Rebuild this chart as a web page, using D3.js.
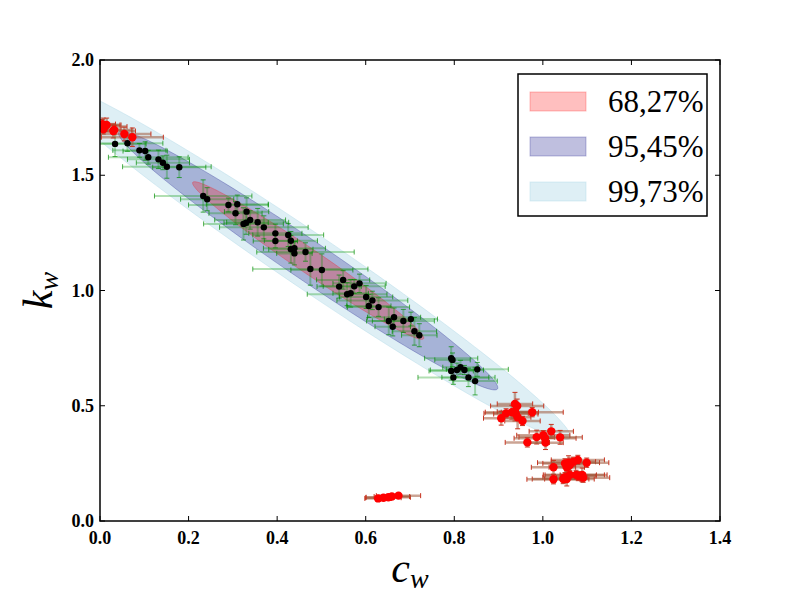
<!DOCTYPE html>
<html>
<head>
<meta charset="utf-8">
<script src="https://cdn.jsdelivr.net/npm/d3@7"></script>
<style>
    html, body { margin: 0; padding: 0; background: #fff; overflow: hidden; }
    svg { display: block; }
    .tick-label { font-family: "Liberation Serif", serif; font-weight: bold; font-size: 18px; }
    .axis-label { font-family: "Liberation Serif", serif; font-style: italic; }
</style>
<script>
// inliers (black points, green error bars)
const inC = [0.034, 0.062, 0.089, 0.102, 0.109, 0.132, 0.142, 0.151, 0.179, 0.233, 0.242, 0.290, 0.310, 0.306, 0.331, 0.339, 0.324, 0.330, 0.356, 0.370, 0.396, 0.396, 0.425, 0.431, 0.431, 0.439, 0.439, 0.464, 0.475, 0.501, 0.549, 0.540, 0.574, 0.586, 0.558, 0.566, 0.601, 0.615, 0.607, 0.629, 0.652, 0.664, 0.685, 0.702, 0.661, 0.710, 0.721, 0.793, 0.796, 0.793, 0.806, 0.814, 0.823, 0.852, 0.798, 0.832, 0.847];
const inK = [1.636, 1.639, 1.608, 1.605, 1.578, 1.569, 1.554, 1.537, 1.535, 1.410, 1.396, 1.371, 1.374, 1.335, 1.342, 1.306, 1.289, 1.294, 1.296, 1.274, 1.248, 1.215, 1.241, 1.216, 1.179, 1.183, 1.161, 1.167, 1.093, 1.089, 1.046, 1.017, 1.018, 1.031, 0.984, 0.988, 0.972, 0.957, 0.933, 0.928, 0.868, 0.884, 0.868, 0.876, 0.843, 0.823, 0.806, 0.706, 0.699, 0.651, 0.655, 0.667, 0.655, 0.658, 0.623, 0.623, 0.607];
const inCErr = [0.07, 0.08, 0.06, 0.05, 0.09, 0.07, 0.06, 0.10, 0.06, 0.11, 0.06, 0.09, 0.07, 0.06, 0.05, 0.08, 0.09, 0.05, 0.07, 0.10, 0.06, 0.05, 0.08, 0.06, 0.05, 0.07, 0.04, 0.11, 0.13, 0.07, 0.06, 0.05, 0.07, 0.06, 0.09, 0.04, 0.06, 0.08, 0.05, 0.07, 0.05, 0.06, 0.07, 0.06, 0.04, 0.05, 0.04, 0.06, 0.04, 0.05, 0.06, 0.04, 0.03, 0.07, 0.08, 0.06, 0.05];
const inKErr = [0.055, 0.035, 0.03, 0.04, 0.03, 0.04, 0.03, 0.05, 0.045, 0.07, 0.05, 0.03, 0.04, 0.05, 0.06, 0.04, 0.07, 0.05, 0.06, 0.05, 0.04, 0.03, 0.05, 0.04, 0.06, 0.03, 0.05, 0.04, 0.07, 0.07, 0.04, 0.05, 0.03, 0.04, 0.05, 0.06, 0.05, 0.04, 0.05, 0.04, 0.06, 0.04, 0.05, 0.03, 0.04, 0.06, 0.05, 0.05, 0.03, 0.04, 0.03, 0.03, 0.02, 0.03, 0.03, 0.04, 0.06];

// outliers (red points, brown error bars)
const outC = [0.005, 0.0075, 0.011, 0.015, 0.0075, 0.030, 0.032, 0.055, 0.073, 0.937, 0.942, 0.976, 0.917, 0.930, 0.937, 0.939, 0.943, 0.906, 0.954, 1.019, 1.001, 0.986, 1.005, 1.039, 0.965, 1.006, 1.079, 1.069, 1.058, 1.050, 1.061, 1.099, 1.054, 1.024, 1.061, 1.075, 1.089, 1.091, 1.050, 1.046, 1.054, 1.024, 1.080, 0.628, 0.640, 0.651, 0.659, 0.674];
const outK = [1.722, 1.718, 1.711, 1.718, 1.699, 1.692, 1.696, 1.679, 1.665, 0.508, 0.499, 0.472, 0.467, 0.472, 0.474, 0.464, 0.450, 0.446, 0.434, 0.389, 0.372, 0.364, 0.359, 0.363, 0.341, 0.340, 0.265, 0.257, 0.253, 0.250, 0.243, 0.253, 0.233, 0.233, 0.200, 0.200, 0.200, 0.188, 0.190, 0.182, 0.182, 0.181, 0.195, 0.098, 0.101, 0.103, 0.106, 0.110];
const outCErr = [0.03, 0.04, 0.05, 0.03, 0.04, 0.05, 0.04, 0.06, 0.07, 0.04, 0.06, 0.07, 0.05, 0.06, 0.04, 0.05, 0.03, 0.04, 0.04, 0.05, 0.06, 0.04, 0.07, 0.05, 0.05, 0.04, 0.06, 0.05, 0.07, 0.05, 0.04, 0.05, 0.04, 0.05, 0.06, 0.07, 0.05, 0.06, 0.05, 0.07, 0.05, 0.06, 0.04, 0.03, 0.04, 0.05, 0.04, 0.05];
const outKErr = [0.02, 0.03, 0.02, 0.03, 0.02, 0.03, 0.02, 0.03, 0.04, 0.05, 0.03, 0.02, 0.02, 0.03, 0.04, 0.02, 0.05, 0.03, 0.02, 0.03, 0.02, 0.03, 0.02, 0.03, 0.02, 0.03, 0.02, 0.02, 0.03, 0.02, 0.03, 0.02, 0.02, 0.03, 0.02, 0.02, 0.03, 0.02, 0.02, 0.02, 0.03, 0.02, 0.02, 0.01, 0.01, 0.01, 0.01, 0.01];

// confidence ellipses: centre, conjugate semi-axes (1 sigma, data units), chi2 radii
const ellCenter = [0.47, 1.13];
const ellAxisU = [0.172, -0.224];
const ellAxisV = [-0.0100, -0.0285];
const ellLabels = ["68,27%", "95,45%", "99,73%"];
const ellRadius = [1.515, 2.486, 3.439];
const ellColors = ["rgba(255,0,0,0.25)", "rgba(0,0,128,0.25)", "rgba(173,216,230,0.4)"];

const xTicks = [0.0, 0.2, 0.4, 0.6, 0.8, 1.0, 1.2, 1.4];
const yTicks = [0.0, 0.5, 1.0, 1.5, 2.0];

const drawChart = () => {
    const width = 800, height = 600;
    const margin = { top: 60, right: 80, bottom: 79, left: 100 };
    const innerWidth = width - margin.left - margin.right;
    const innerHeight = height - margin.top - margin.bottom;

    const svg = d3.select("#chart")
        .append("svg")
        .attr("width", width)
        .attr("height", height);

    const innerChart = svg.append("g")
        .attr("transform", `translate(${margin.left},${margin.top})`);

    const xScale = d3.scaleLinear().domain([0, 1.4]).range([0, innerWidth]);
    const yScale = d3.scaleLinear().domain([0, 2.0]).range([innerHeight, 0]);

    svg.append("defs").append("clipPath").attr("id", "clip")
        .append("rect").attr("width", innerWidth).attr("height", innerHeight);

    const plot = innerChart.append("g").attr("clip-path", "url(#clip)");

    // ellipses, biggest first
    const angles = d3.range(0, 2 * Math.PI + 0.01, Math.PI / 90);
    const ellLine = d3.line().x(d => xScale(d[0])).y(d => yScale(d[1]));
    [2, 1, 0].forEach(i => {
        const r = ellRadius[i];
        const pts = angles.map(t => [
            ellCenter[0] + r * (ellAxisU[0] * Math.cos(t) + ellAxisV[0] * Math.sin(t)),
            ellCenter[1] + r * (ellAxisU[1] * Math.cos(t) + ellAxisV[1] * Math.sin(t))
        ]);
        plot.append("path")
            .attr("d", ellLine(pts) + "Z")
            .attr("fill", ellColors[i])
            .attr("stroke", ellColors[i])
            .attr("stroke-width", 1);
    });

    // error bars, dots drawn afterwards
    const drawSet = (cs, ks, cErr, kErr, barColor, barWidth, capColor, dotColor, r) => {
        const data = cs.map((c, i) => ({ c, k: ks[i], ce: cErr[i], ke: kErr[i] }));
        const g = plot.append("g");
        const cap = 2.5;
        data.forEach(d => {
            const x0 = xScale(d.c - d.ce), x1 = xScale(d.c + d.ce), yc = yScale(d.k);
            const y0 = yScale(d.k - d.ke), y1 = yScale(d.k + d.ke), xc = xScale(d.c);
            g.append("line").attr("x1", x0).attr("x2", x1).attr("y1", yc).attr("y2", yc)
                .attr("stroke", barColor).attr("stroke-width", barWidth);
            g.append("line").attr("x1", xc).attr("x2", xc).attr("y1", y0).attr("y2", y1)
                .attr("stroke", barColor).attr("stroke-width", barWidth);
            [x0, x1].forEach(x => g.append("line").attr("x1", x).attr("x2", x)
                .attr("y1", yc - cap).attr("y2", yc + cap).attr("stroke", capColor).attr("stroke-width", 1));
            [y0, y1].forEach(y => g.append("line").attr("y1", y).attr("y2", y)
                .attr("x1", xc - cap).attr("x2", xc + cap).attr("stroke", capColor).attr("stroke-width", 1));
        });
        return () => plot.append("g").selectAll("circle")
            .data(data)
            .join("circle")
                .attr("cx", d => xScale(d.c))
                .attr("cy", d => yScale(d.k))
                .attr("r", r)
                .attr("fill", dotColor);
    };

    const inDots = drawSet(inC, inK, inCErr, inKErr, "rgba(0,150,0,0.3)", 2, "rgba(0,140,0,0.7)", "black", 3.2);
    const outDots = drawSet(outC, outK, outCErr, outKErr, "rgba(160,90,60,0.55)", 2.5, "#c8321e", "red", 4.2);
    inDots();
    outDots();

    // axes box
    innerChart.append("rect")
        .attr("width", innerWidth).attr("height", innerHeight)
        .attr("fill", "none").attr("stroke", "black").attr("stroke-width", 1.5);

    // ticks inside, on all four sides
    const tickLen = 5;
    xTicks.forEach(t => {
        const x = xScale(t);
        innerChart.append("line").attr("x1", x).attr("x2", x).attr("y1", innerHeight).attr("y2", innerHeight - tickLen).attr("stroke", "black");
        innerChart.append("line").attr("x1", x).attr("x2", x).attr("y1", 0).attr("y2", tickLen).attr("stroke", "black");
        innerChart.append("text").attr("class", "tick-label")
            .attr("x", x).attr("y", innerHeight + 23)
            .attr("text-anchor", "middle")
            .text(t.toFixed(1));
    });
    yTicks.forEach(t => {
        const y = yScale(t);
        innerChart.append("line").attr("x1", 0).attr("x2", tickLen).attr("y1", y).attr("y2", y).attr("stroke", "black");
        innerChart.append("line").attr("x1", innerWidth).attr("x2", innerWidth - tickLen).attr("y1", y).attr("y2", y).attr("stroke", "black");
        innerChart.append("text").attr("class", "tick-label")
            .attr("x", -6).attr("y", y + 6)
            .attr("text-anchor", "end")
            .text(t.toFixed(1));
    });

    // axis labels
    const xLabel = svg.append("text").attr("class", "axis-label")
        .attr("x", margin.left + innerWidth / 2).attr("y", 582)
        .attr("text-anchor", "middle").attr("font-size", 42);
    xLabel.append("tspan").text("c");
    xLabel.append("tspan").attr("font-size", 28).attr("dy", 6).text("w");

    const yLabel = svg.append("text").attr("class", "axis-label")
        .attr("transform", `translate(52, ${margin.top + innerHeight / 2}) rotate(-90)`)
        .attr("text-anchor", "middle").attr("font-size", 42);
    yLabel.append("tspan").text("k");
    yLabel.append("tspan").attr("font-size", 28).attr("dy", 6).text("w");

    // legend
    const legend = svg.append("g").attr("transform", "translate(518,74)");
    legend.append("rect").attr("width", 189).attr("height", 142)
        .attr("fill", "white").attr("stroke", "black").attr("stroke-width", 1.5);
    ellLabels.forEach((label, i) => {
        const y = 27 + i * 45;
        legend.append("rect").attr("x", 12).attr("y", y - 9).attr("width", 56).attr("height", 19)
            .attr("fill", ellColors[i]).attr("stroke", ellColors[i]);
        legend.append("text").attr("x", 90).attr("y", y + 11)
            .attr("font-family", "Liberation Serif, serif").attr("font-size", 31)
            .text(label);
    });
};

document.addEventListener("DOMContentLoaded", drawChart);
</script>
</head>
<body>
<div id="chart"></div>
</body>
</html>
